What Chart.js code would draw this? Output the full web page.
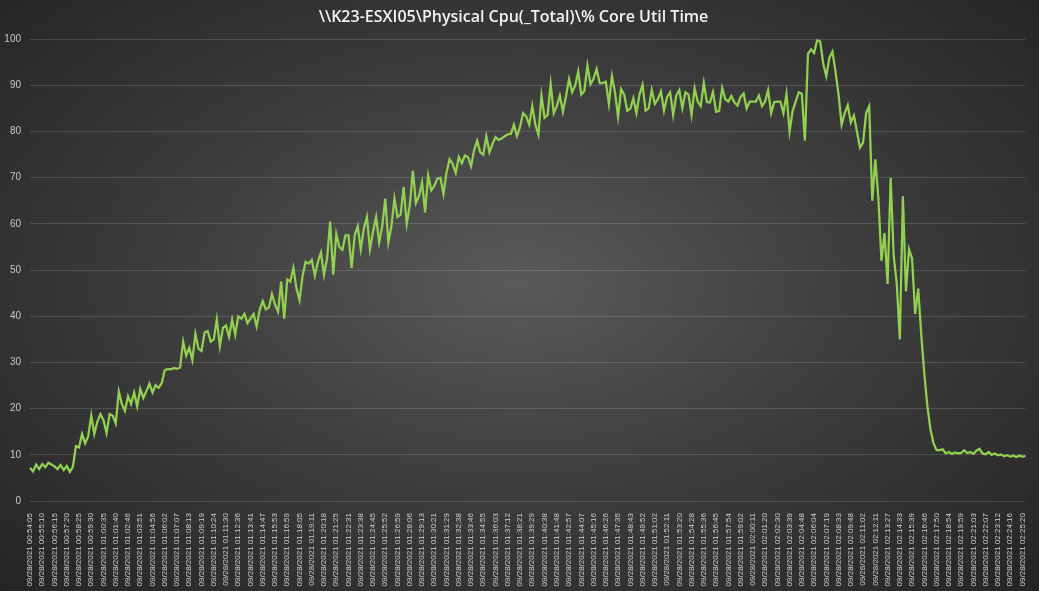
<!DOCTYPE html>
<html>
<head>
<meta charset="utf-8">
<title>Core Util Time</title>
<script src="https://cdn.jsdelivr.net/npm/chart.js@4"></script>
<style>
  html, body { margin: 0; padding: 0; }
  #wrap {
    width: 1039px;
    height: 591px;
    background: radial-gradient(ellipse farthest-corner at 50% 48%, #5a5a5a 0%, #3e3e3e 45%, #242424 100%);
  }
</style>
</head>
<body>
<div id="wrap"><canvas id="chart"></canvas></div>
<script>
// x axis: one label every 4 samples
const datePrefix = '09/28/2021 '
const tickTimes = [
  '00:54:05', '00:55:10', '00:56:15', '00:57:20', '00:58:25', '00:59:30', '01:00:35', '01:01:40', '01:02:46', '01:03:51',
  '01:04:56', '01:06:02', '01:07:07', '01:08:13', '01:09:19', '01:10:24', '01:11:30', '01:12:36', '01:13:41', '01:14:47',
  '01:15:53', '01:16:59', '01:18:05', '01:19:11', '01:20:18', '01:21:25', '01:22:31', '01:23:38', '01:24:45', '01:25:52',
  '01:26:59', '01:28:06', '01:29:13', '01:30:21', '01:31:29', '01:32:38', '01:33:46', '01:34:55', '01:36:03', '01:37:12',
  '01:38:21', '01:39:29', '01:40:38', '01:41:48', '01:42:57', '01:44:07', '01:45:16', '01:46:26', '01:47:35', '01:48:43',
  '01:49:52', '01:51:02', '01:52:11', '01:53:20', '01:54:28', '01:55:36', '01:56:45', '01:57:54', '01:59:02', '02:00:11',
  '02:01:20', '02:02:30', '02:03:39', '02:04:48', '02:06:04', '02:07:19', '02:08:33', '02:09:48', '02:11:02', '02:12:11',
  '02:13:27', '02:14:33', '02:15:39', '02:16:46', '02:17:50', '02:18:54', '02:19:59', '02:21:03', '02:22:07', '02:23:12',
  '02:24:16', '02:25:20'
]
const samplesPerTick = 4

// y axis
const yTicks = [0, 10, 20, 30, 40, 50, 60, 70, 80, 90, 100]

// % Core Util Time
const coreUtil = [
  7.2, 6.4, 7.9, 6.9, 8.0, 7.3, 8.3, 7.9, 7.5, 6.9, 7.8, 6.7, 7.6, 6.3, 7.4,
  11.9, 11.6, 14.5, 12.5, 14,
  18.5, 14.5, 17.2, 18.8, 17.5, 14.7, 18.8, 18.5, 16.8, 23.7,
  21, 19.5, 22.7, 21, 23.5, 20.5, 24.3, 22.3, 23.8, 25.4,
  23.5, 25.1, 24.5, 25.5, 28.3, 28.6, 28.5, 28.8, 28.6, 28.9,
  34.5, 31.5, 33.2, 30.5, 36.2, 33, 32.5, 36.5, 36.8, 34.5,
  35, 39.3, 33.5, 37.5, 38, 35.5, 39.3, 36, 40, 39.5,
  40.5, 38.5, 39.5, 40.5, 37.8, 41.4, 43.3, 41.5, 41.9, 44.8,
  42.5, 41, 47.5, 39.5, 48, 47.5, 50.5, 46, 43.5, 48.8,
  51.8, 51.4, 52.2, 48.8, 51.8, 53.8, 49, 52.5, 60.5, 49,
  57.8, 55, 54.4, 57.5, 57.5, 50.5, 57.5, 59.5, 54.5, 59,
  61.5, 54.5, 58.3, 61.5, 56, 59.5, 65.5, 56, 59.5, 65.5,
  61.5, 62, 68, 60, 64, 71.5, 64.5, 66, 69, 62.5,
  70.5, 67.3, 68.2, 69.8, 70, 66.5, 71.2, 74, 73, 71,
  74.5, 73.2, 74.8, 74.5, 72.5, 76, 78, 75.5, 75, 79,
  75.5, 77.3, 78.8, 78.2, 78.5, 79, 79.4, 79.5, 81.5, 79,
  81, 84, 83.3, 81.5, 85.5, 81.5, 79.3, 87.8, 83, 83.6,
  90.3, 84, 85.5, 87.8, 84.3, 87.6, 91.4, 88.5, 90, 93,
  88, 88.8, 94.3, 90.2, 91.4, 93.5, 90.5, 90.5, 90.8, 86,
  92, 88.5, 83.2, 89.2, 88, 84.5, 85, 87.2, 84, 88,
  90.1, 84.5, 85, 89, 86, 87, 88.7, 84.5, 87.5, 88.5,
  83.6, 87.8, 89, 85.1, 88.5, 88, 83.6, 89.4, 86.5, 85.5,
  90.5, 86.4, 86.3, 88.6, 84.3, 84.5, 89.5, 87, 86.5, 87.7,
  86.3, 85.6, 87.5, 88.2, 85, 86.5, 86.5, 86.5, 87.8, 85.5,
  86.5, 89, 84, 86.4, 86.5, 86.5, 84, 88.2, 80, 84.5,
  86.5, 88.5, 88.2, 78, 96.8, 97.8, 97, 99.8, 99.5, 94.7,
  92, 96, 97.3, 93, 88, 81.5, 84, 85.7, 82, 83.5,
  80, 76.5, 77.6, 84, 85.5, 65, 74, 65.5, 52, 58,
  47, 70, 53, 47, 35, 66, 45.4, 54.5, 52.5, 40.5,
  46, 36, 27.5, 20.5, 15.5, 12.5, 11, 11, 11.2, 10.3,
  10.6, 10.2, 10.5, 10.3, 10.4, 11.0, 10.4, 10.6, 10.2, 10.9,
  11.3, 10.3, 10.1, 10.6, 10.0, 10.3, 9.9, 10.1, 9.7, 9.9,
  9.6, 9.8, 9.5, 9.8, 9.6, 9.7
]

const labels = coreUtil.map((v, i) =>
  i % samplesPerTick === 0 && tickTimes[i / samplesPerTick] ? datePrefix + tickTimes[i / samplesPerTick] : ''
)

const ctx = document.getElementById('chart').getContext('2d')
new Chart(ctx, {
  type: 'line',
  data: {
    labels: labels,
    datasets: [{
      label: '% Core Util Time',
      data: coreUtil,
      borderColor: '#92d050',
      borderWidth: 2.25,
      pointRadius: 0,
      tension: 0,
      fill: false
    }]
  },
  options: {
    responsive: true,
    maintainAspectRatio: false,
    animation: false,
    layout: { padding: { left: 0, right: 12, top: 0, bottom: 0 } },
    plugins: {
      legend: { display: false },
      tooltip: { enabled: false },
      title: {
        display: true,
        text: '\\\\K23-ESXI05\\Physical Cpu(_Total)\\% Core Util Time',
        color: '#f2f2f2',
        font: { family: 'Open Sans', size: 16, weight: '600', lineHeight: 1.2 },
        padding: { top: 8, bottom: 12 }
      }
    },
    scales: {
      x: {
        grid: { display: false },
        border: { display: false },
        ticks: {
          autoSkip: false,
          minRotation: 90,
          maxRotation: 90,
          padding: 4,
          color: '#d0d0d0',
          font: { family: 'Liberation Sans', size: 8 }
        },
        afterFit: s => { s.height = 90 }
      },
      y: {
        min: 0,
        max: 100,
        afterBuildTicks: s => { s.ticks = yTicks.map(v => ({ value: v })) },
        grid: { color: 'rgba(255, 255, 255, 0.14)', lineWidth: 1, drawTicks: false },
        border: { display: false },
        ticks: {
          padding: 9,
          color: '#c8c8c8',
          font: { family: 'Liberation Sans', size: 10 }
        },
        afterFit: s => { s.width = 30 }
      }
    }
  }
})
</script>
</body>
</html>
